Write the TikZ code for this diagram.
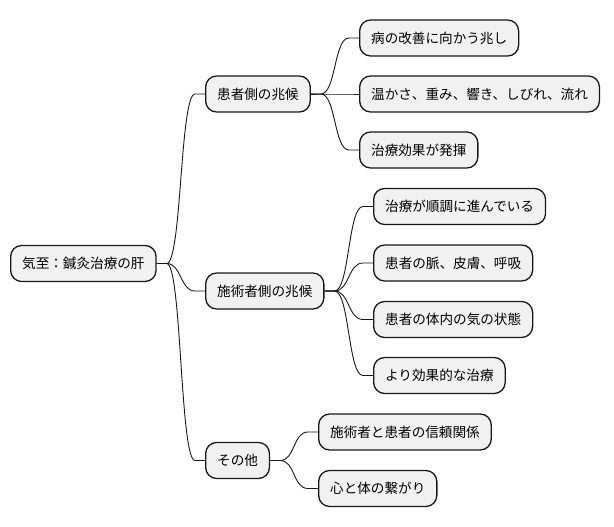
\documentclass[tikz,border=0pt]{standalone}
\usepackage{fontspec}
\setmainfont{Noto Sans CJK JP}
\usetikzlibrary{calc}
\definecolor{boxfill}{HTML}{F1F1F1}
\definecolor{boxline}{HTML}{181818}
\tikzset{
  mmbox/.style={draw=boxline, fill=boxfill, line width=1.3pt, rounded corners=11pt,
    minimum height=36pt, inner xsep=11.5pt, inner ysep=0pt, anchor=west,
    font=\fontsize{13.6pt}{16pt}\selectfont, text=black},
  conn/.style={draw=boxline, line width=0.9pt}
}
\newcommand{\mmlink}[2]{\draw[conn] (#1.east) -- ++(10,0) .. controls +(15,0) and +(-15,0) .. ($(#2.west)+(-10,0)$) -- (#2.west);}
\begin{document}
\begin{tikzpicture}[x=1pt,y=-1pt]
\useasboundingbox (0,0) rectangle (614,527);
\node[mmbox] (root) at (10,263.5) {気至：鍼灸治療の肝};
\node[mmbox] (p1) at (205,94) {患者側の兆候};
\node[mmbox] (p1a) at (359,38) {病の改善に向かう兆し};
\node[mmbox] (p1b) at (359,94) {温かさ、重み、響き、しびれ、流れ};
\node[mmbox] (p1c) at (359,150) {治療効果が発揮};
\node[mmbox] (p2) at (205,291) {施術者側の兆候};
\node[mmbox] (p2a) at (373,206.5) {治療が順調に進んでいる};
\node[mmbox] (p2b) at (373,263) {患者の脈、皮膚、呼吸};
\node[mmbox] (p2c) at (373,319.5) {患者の体内の気の状態};
\node[mmbox] (p2d) at (373,375.5) {より効果的な治療};
\node[mmbox] (p3) at (205,460.5) {その他};
\node[mmbox] (p3a) at (318,432) {施術者と患者の信頼関係};
\node[mmbox] (p3b) at (318,488.5) {心と体の繋がり};
\mmlink{root}{p1}
\mmlink{root}{p2}
\mmlink{root}{p3}
\mmlink{p1}{p1a}
\mmlink{p1}{p1b}
\mmlink{p1}{p1c}
\mmlink{p2}{p2a}
\mmlink{p2}{p2b}
\mmlink{p2}{p2c}
\mmlink{p2}{p2d}
\mmlink{p3}{p3a}
\mmlink{p3}{p3b}
\end{tikzpicture}
\end{document}
